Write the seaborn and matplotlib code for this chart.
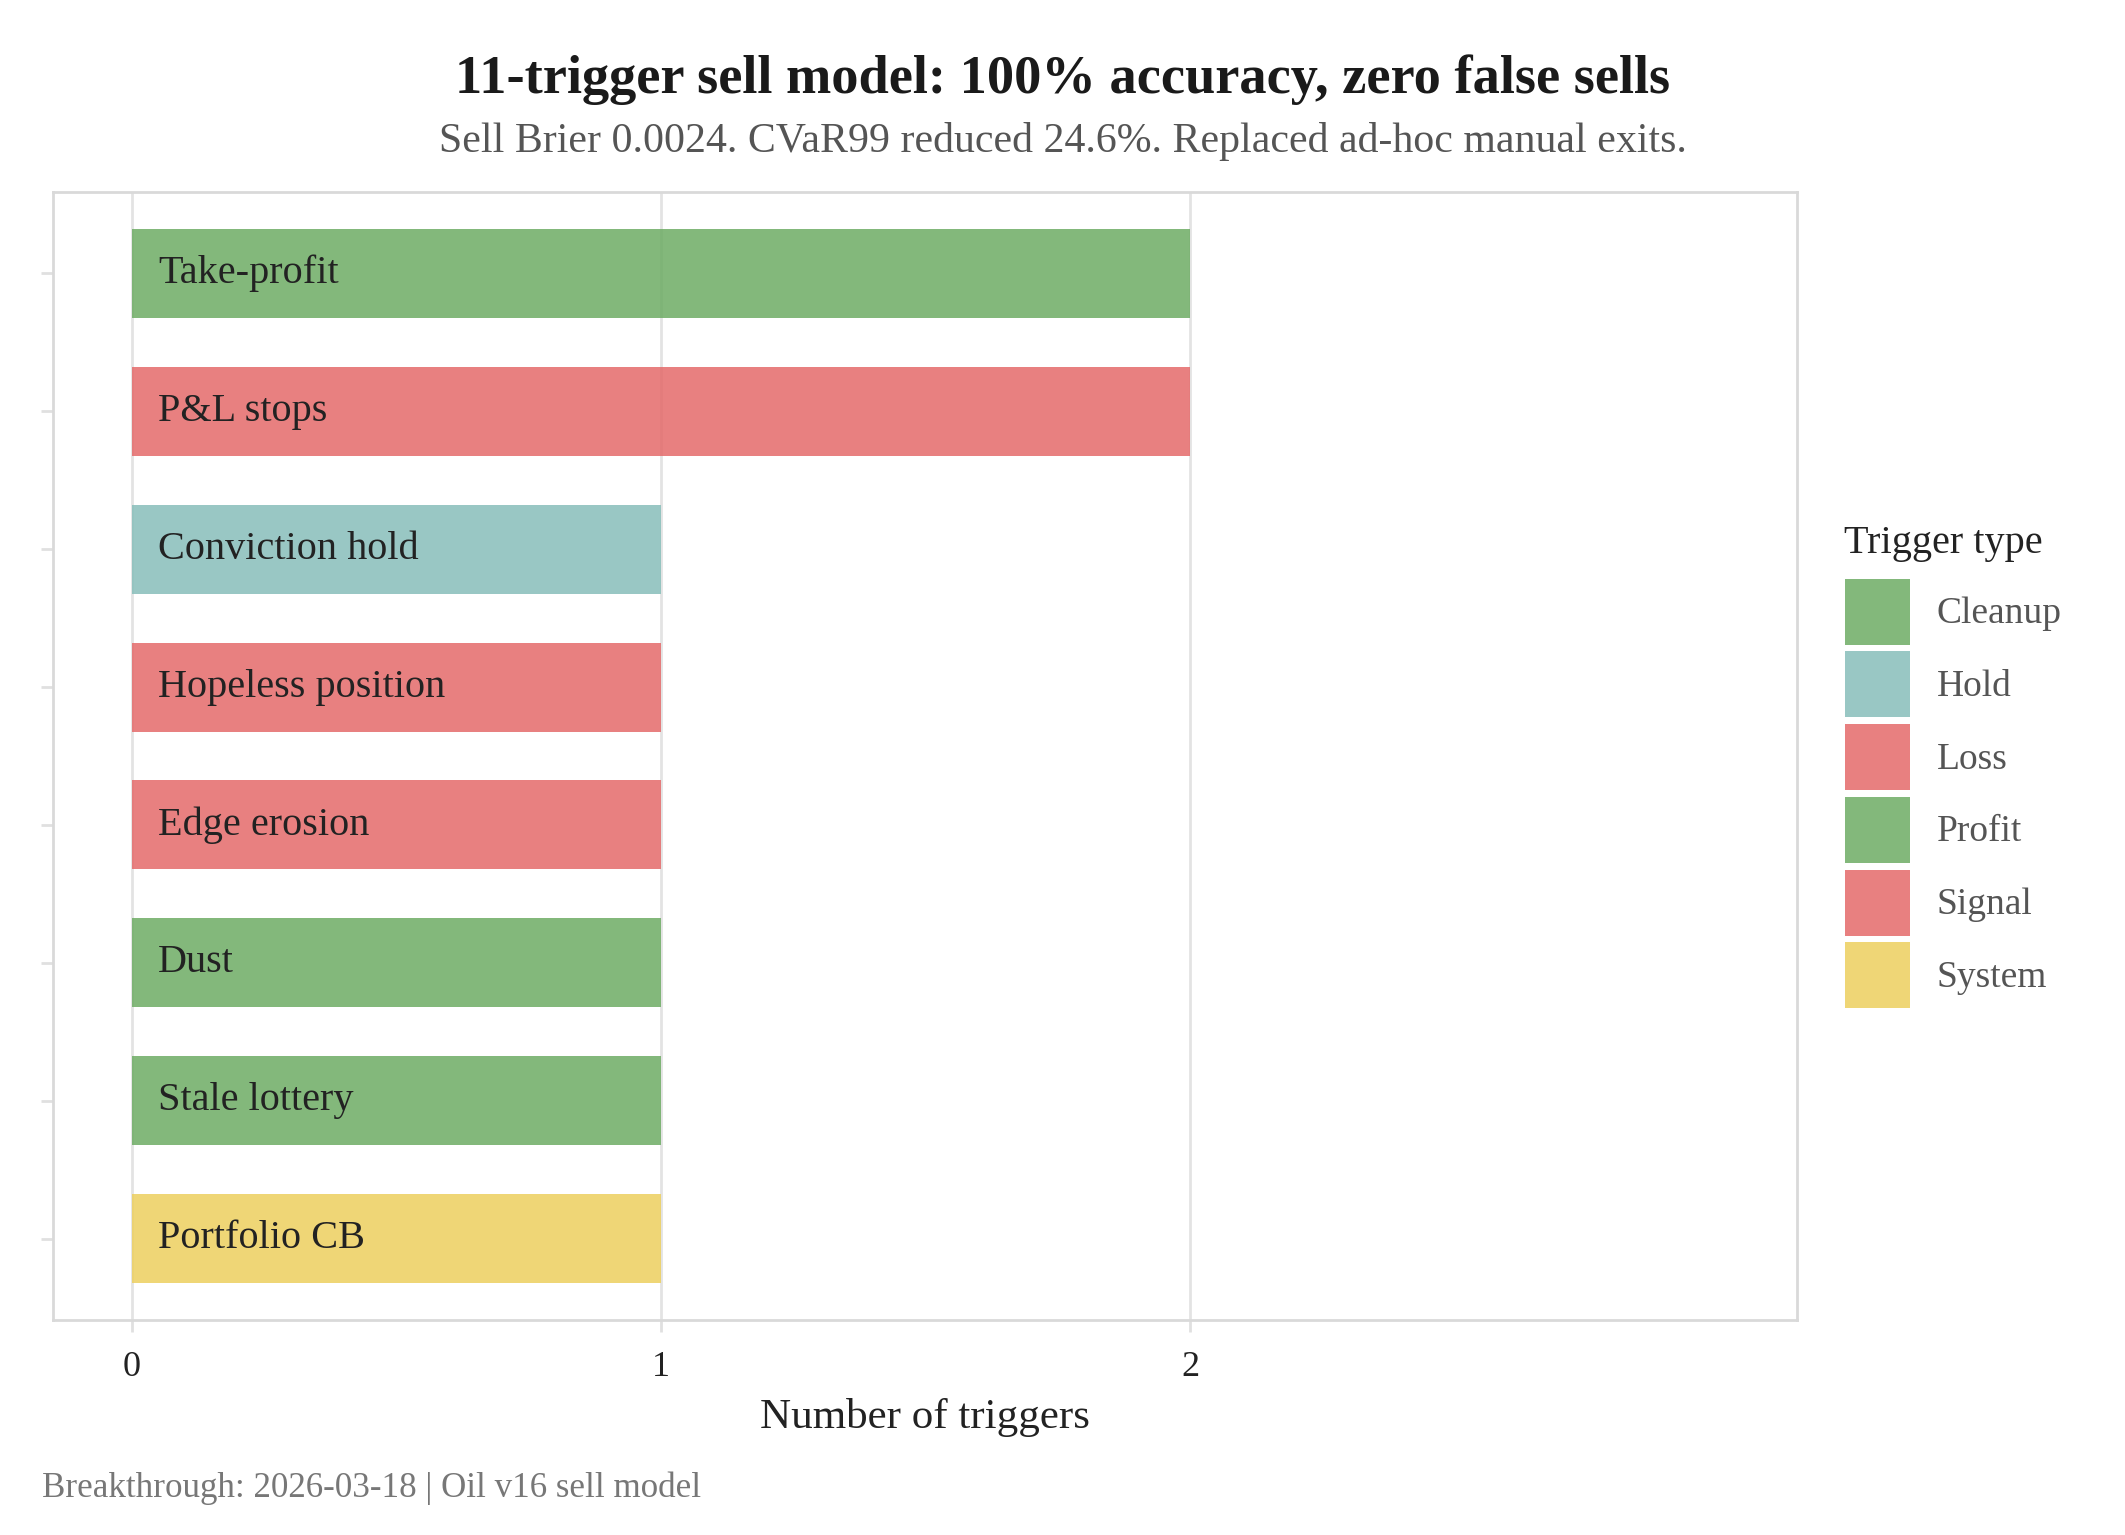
import pandas as pd
import matplotlib.pyplot as plt
import seaborn as sns

# chart data
triggers = ['Take-profit', 'P&L stops', 'Conviction hold', 'Hopeless position',
            'Edge erosion', 'Dust', 'Stale lottery', 'Portfolio CB']
counts = [2, 2, 1, 1, 1, 1, 1, 1]
trigger_types = ['Profit', 'Loss', 'Hold', 'Loss', 'Signal', 'Cleanup', 'Cleanup', 'System']
type_order = ['Cleanup', 'Hold', 'Loss', 'Profit', 'Signal', 'System']
type_colors = {'Cleanup': '#6DAC64', 'Hold': '#87BEBA', 'Loss': '#E46A6A',
               'Profit': '#6DAC64', 'Signal': '#E46A6A', 'System': '#EDCF5E'}
bar_alpha = 0.85

df = pd.DataFrame({'trigger': triggers, 'count': counts, 'type': trigger_types})

sns.set_theme(style='white')
plt.rcParams['font.family'] = ['Liberation Serif', 'DejaVu Serif']

fig = plt.figure(figsize=(10.625, 7.675), dpi=200)
ax = fig.add_axes([0.0249, 0.140, 0.8207, 0.735])

sns.barplot(data=df, x='count', y='trigger', hue='type', hue_order=type_order,
            palette=type_colors, dodge=False, width=0.645, saturation=1,
            order=triggers, linewidth=0, alpha=bar_alpha, ax=ax)

# labels inside the bars
for i, name in enumerate(triggers):
    ax.text(0.05, i, name, va='center', ha='left', fontsize=14.5, color='#222222')

ax.set_xlim(-0.149, 3.147)
ax.set_ylim(len(triggers) - 0.41, -0.59)
ax.set_xticks([0, 1, 2])
ax.set_xticklabels(['0', '1', '2'], fontsize=13, color='#222222')
ax.set_yticks(range(len(triggers)))
ax.set_yticklabels([])
ax.set_ylabel('')
ax.set_xlabel('Number of triggers', fontsize=15.5, color='#222222', labelpad=5)
ax.xaxis.grid(True, color='#E3E3E3', linewidth=1.0)
ax.yaxis.grid(False)
ax.set_axisbelow(True)
for s in ax.spines.values():
    s.set_color('#D9D9D9')
    s.set_linewidth(1.0)
ax.tick_params(axis='both', which='both', length=4.3, width=1.0, color='#E0E0E0')
ax.tick_params(axis='x', pad=7, bottom=True)
ax.tick_params(axis='y', left=True)

leg = ax.legend(title='Trigger type', loc='upper left', bbox_to_anchor=(0.868, 0.658),
                bbox_transform=fig.transFigure, frameon=False, fontsize=13.5,
                title_fontsize=14.5, handlelength=1.75, handleheight=2.33,
                labelspacing=0.18, handletextpad=0.7, borderpad=0, borderaxespad=0)
leg._legend_box.align = 'left'
leg._legend_box.sep = 6
for h in leg.legend_handles:
    h.set_alpha(bar_alpha)
    h.set_linewidth(0)
for t in leg.get_texts():
    t.set_color('#555555')
leg.get_title().set_color('#222222')

fig.text(0.5, 0.9394, '11-trigger sell model: 100% accuracy, zero false sells',
         ha='center', va='baseline', fontsize=19.6, fontweight='bold', color='#1A1A1A')
fig.text(0.5, 0.901, 'Sell Brier 0.0024. CVaR99 reduced 24.6%. Replaced ad-hoc manual exits.',
         ha='center', va='baseline', fontsize=15.1, color='#555555')
fig.text(0.02, 0.025, 'Breakthrough: 2026-03-18 | Oil v16 sell model',
         ha='left', va='baseline', fontsize=12.6, color='#777777')

fig.savefig('out.png', dpi=200, facecolor='white')
